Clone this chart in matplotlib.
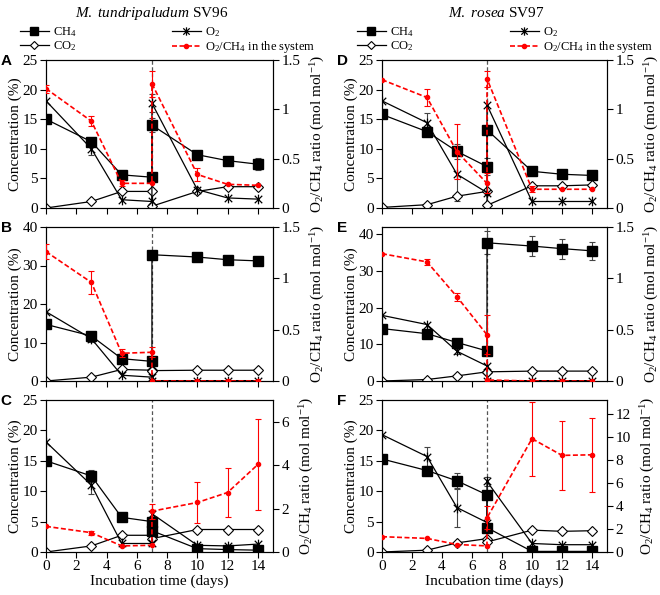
import numpy as np
import matplotlib
matplotlib.use('Agg')
import matplotlib.pyplot as plt
from matplotlib.path import Path
from matplotlib.lines import Line2D

plt.rcParams['font.family'] = ['Liberation Serif', 'DejaVu Serif']
plt.rcParams['mathtext.fontset'] = 'custom'
plt.rcParams['mathtext.rm'] = 'Liberation Serif'
plt.rcParams['mathtext.it'] = 'Liberation Serif:italic'
plt.rcParams['font.size'] = 11

# ─── data: day 7 appears twice (before / after re-feeding) ───
days = [0, 3, 5, 7, 7, 10, 12, 14]
xticks = [0, 2, 4, 6, 8, 10, 12, 14]

# M. tundripaludum SV96
ch4_A = [15.0, 11.2, 5.6, 5.2, 14.0, 9.0, 8.0, 7.4]
o2_A = [18.1, 10.0, 1.4, 1.1, 17.7, 3.1, 1.7, 1.5]
co2_A = [0.0, 1.1, 2.8, 2.8, 0.3, 2.8, 3.6, 3.6]
ratio_A = [1.21, 0.88, 0.25, 0.25, 1.26, 0.34, 0.24, 0.23]
ch4_err_A = [0, 0.7, 0, 0, 1.2, 0, 0, 1.0]
o2_err_A = [0, 1.0, 0, 0, 1.5, 0, 0, 0]
ratio_err_A = [0.04, 0.05, 0.03, 0, 0.13, 0.07, 0, 0]

ch4_B = [14.7, 11.7, 5.8, 5.1, 32.8, 32.2, 31.5, 31.2]
o2_B = [18.0, 11.0, 1.5, 1.0, 0.1, 0.1, 0.1, 0.1]
co2_B = [0.0, 1.0, 3.0, 2.8, 2.7, 2.8, 2.8, 2.8]
ratio_B = [1.26, 0.96, 0.27, 0.28, 0.0, 0.0, 0.0, 0.0]
ch4_err_B = [0, 0, 0, 0, 0, 0, 0, 0]
o2_err_B = [0, 0.8, 0, 0, 0, 0, 0, 0]
ratio_err_B = [0.075, 0.11, 0.04, 0.05, 0, 0, 0, 0]

ch4_C = [15.0, 12.5, 5.7, 5.0, 3.5, 0.55, 0.4, 0.3]
o2_C = [18.1, 11.0, 1.4, 1.4, 6.3, 1.1, 1.0, 1.3]
co2_C = [0.0, 1.0, 2.75, 2.75, 2.2, 3.7, 3.7, 3.7]
ratio_C = [1.18, 0.89, 0.28, 0.31, 1.88, 2.28, 2.74, 4.03]
ch4_err_C = [0, 1.0, 0, 0, 0, 0, 0, 0]
o2_err_C = [0, 1.5, 0, 0, 0, 0, 0, 0]
ratio_err_C = [0, 0.1, 0, 0, 0.35, 0.95, 1.15, 2.1]

# M. rosea SV97
ch4_D = [15.8, 12.9, 9.55, 7.0, 13.2, 6.2, 5.7, 5.5]
o2_D = [18.1, 14.4, 5.7, 2.6, 17.4, 1.1, 1.1, 1.1]
co2_D = [0.1, 0.56, 2.0, 2.8, 0.45, 3.75, 3.75, 3.9]
ratio_D = [1.30, 1.12, 0.57, 0.25, 1.31, 0.19, 0.19, 0.19]
ch4_err_D = [0, 0, 1.3, 1.5, 0, 0, 0, 0]
o2_err_D = [0, 1.7, 4.5, 0, 0, 0, 0, 0]
ratio_err_D = [0, 0.085, 0.28, 0.1, 0.08, 0.03, 0, 0]

ch4_E = [14.3, 12.9, 10.5, 8.2, 37.7, 36.8, 36.1, 35.5]
o2_E = [17.9, 15.4, 8.1, 4.1, 0.1, 0.1, 0.1, 0.1]
co2_E = [0.0, 0.4, 1.4, 2.5, 2.5, 2.7, 2.7, 2.7]
ratio_E = [1.24, 1.16, 0.82, 0.45, 0.01, 0.0, 0.0, 0.0]
ch4_err_E = [0, 0, 0, 0, 3.1, 2.7, 2.7, 2.4]
o2_err_E = [0, 0, 0.6, 0, 0, 0, 0, 0]
ratio_err_E = [0, 0.03, 0.04, 0.19, 0, 0, 0, 0]

ch4_F = [15.3, 13.4, 11.7, 9.4, 4.0, 0.1, 0.1, 0.1]
o2_F = [19.3, 15.7, 7.3, 4.85, 11.6, 1.4, 1.2, 1.2]
co2_F = [0.0, 0.3, 1.5, 2.2, 1.65, 3.6, 3.4, 3.5]
ratio_F = [1.33, 1.18, 0.65, 0.53, 2.96, 9.84, 8.39, 8.44]
ch4_err_F = [0, 0, 1.3, 0, 0, 0, 0, 0]
o2_err_F = [0, 1.5, 3.2, 0, 0.7, 0, 0, 0]
ratio_err_F = [0, 0, 0, 0, 1.0, 3.2, 3.0, 3.2]

# ─── marker for O2: x with a vertical bar ───
star = Path([(-1, -1), (1, 1), (-1, 1), (1, -1), (0, -1.3), (0, 1.3)],
            [Path.MOVETO, Path.LINETO, Path.MOVETO, Path.LINETO, Path.MOVETO, Path.LINETO])

W, H = 660, 595
fig = plt.figure(figsize=(W / 100, H / 100), dpi=100)

cols = [(46, 273), (382, 607)]
rows = [(60, 208), (227, 381), (400, 552)]


def err_bars(ax, y, err, color, lw=0.8):
    xs = [d for d, e in zip(days, err) if e > 0]
    ys = [v for v, e in zip(y, err) if e > 0]
    es = [e for e in err if e > 0]
    if xs:
        ax.errorbar(xs, ys, yerr=es, fmt='none', ecolor=color, elinewidth=lw,
                    capsize=2.5, capthick=lw, zorder=4)


def panel(col, row, ch4, o2, co2, ratio, ch4_err, o2_err, ratio_err,
          ylim, yticks, rlim, rticks, letter, last):
    x0, x1 = cols[col]
    top, bot = rows[row]
    ax = fig.add_axes([x0 / W, 1 - bot / H, (x1 - x0) / W, (bot - top) / H])
    ax2 = ax.twinx()

    ax.axvline(7, color='#555555', ls='--', lw=0.9, dashes=(3, 2), zorder=1)
    err_bars(ax, ch4, ch4_err, '#444444')
    err_bars(ax, o2, o2_err, '#444444')
    ax.plot(days, co2, color='black', lw=0.9, marker='D', ms=5.5,
            mfc='white', mec='black', mew=0.8, zorder=5)
    ax.plot(days, o2, color='black', lw=0.9, marker=star, ms=7,
            mec='black', mew=0.9, zorder=6)
    ax.plot(days, ch4, color='black', lw=0.9, marker='s', ms=7.5,
            mfc='black', mec='black', zorder=7)

    err_bars(ax2, ratio, ratio_err, 'red')
    ax2.plot(days, ratio, color='red', lw=1.2, ls='--', dashes=(3, 1.5),
             marker='o', ms=3, zorder=8)

    ax.set_xlim(0, 15)
    ax.set_xticks(xticks)
    ax.set_ylim(*ylim)
    ax.set_yticks(yticks)
    ax2.set_ylim(*rlim)
    ax2.set_yticks(rticks)
    ax2.set_yticklabels([('%g' % t) for t in rticks])
    for a in (ax, ax2):
        a.tick_params(direction='out', length=4, width=0.8, labelsize=11, pad=2)
    if last:
        ax.set_xlabel('Incubation time (days)', fontsize=11, labelpad=1)
    else:
        ax.set_xticklabels([])
    ax.set_ylabel('Concentration (%)', fontsize=11, labelpad=0)
    ax2.set_ylabel(r'O$_2$/CH$_4$ ratio (mol mol$^{-1}$)', fontsize=11, labelpad=6)
    fig.text((x0 - 40) / W, 1 - (top + 1) / H, letter, family='Liberation Sans',
             fontweight='bold', fontsize=11, ha='center', va='center')
    return ax


panel(0, 0, ch4_A, o2_A, co2_A, ratio_A, ch4_err_A, o2_err_A, ratio_err_A,
      (0, 25), [0, 5, 10, 15, 20, 25], (0, 1.5), [0, 0.5, 1, 1.5], 'A', False)
panel(0, 1, ch4_B, o2_B, co2_B, ratio_B, ch4_err_B, o2_err_B, ratio_err_B,
      (0, 40), [0, 10, 20, 30, 40], (0, 1.5), [0, 0.5, 1, 1.5], 'B', False)
panel(0, 2, ch4_C, o2_C, co2_C, ratio_C, ch4_err_C, o2_err_C, ratio_err_C,
      (0, 25), [0, 5, 10, 15, 20, 25], (0, 7), [0, 2, 4, 6], 'C', True)
panel(1, 0, ch4_D, o2_D, co2_D, ratio_D, ch4_err_D, o2_err_D, ratio_err_D,
      (0, 25), [0, 5, 10, 15, 20, 25], (0, 1.5), [0, 0.5, 1, 1.5], 'D', False)
panel(1, 1, ch4_E, o2_E, co2_E, ratio_E, ch4_err_E, o2_err_E, ratio_err_E,
      (0, 42), [0, 10, 20, 30, 40], (0, 1.5), [0, 0.5, 1, 1.5], 'E', False)
panel(1, 2, ch4_F, o2_F, co2_F, ratio_F, ch4_err_F, o2_err_F, ratio_err_F,
      (0, 25), [0, 5, 10, 15, 20, 25], (0, 13.2), [0, 2, 4, 6, 8, 10, 12], 'F', True)

# ─── titles ───
fig.text(152 / W, 1 - 13 / H, r'$\mathit{M.\ tundripaludum}$ SV96', ha='center', va='center', fontsize=11)
fig.text(496 / W, 1 - 13 / H, r'$\mathit{M.\ rosea}$ SV97', ha='center', va='center', fontsize=11)

# ─── legends ───
h_ch4 = Line2D([], [], color='black', lw=0.9, marker='s', ms=6, mfc='black')
h_co2 = Line2D([], [], color='black', lw=0.9, marker='D', ms=4.5, mfc='white', mew=0.8)
h_o2 = Line2D([], [], color='black', lw=0.9, marker=star, ms=6, mew=0.9)
h_rat = Line2D([], [], color='red', lw=1.2, ls='--', dashes=(3, 1.5), marker='o', ms=3)
leg_kw = dict(frameon=False, loc='upper left', borderpad=0, borderaxespad=0,
              handlelength=2.3, handletextpad=0.35, labelspacing=0.05, fontsize=9)
for hx, ox in [(20, 172), (357, 510)]:
    fig.legend([h_ch4, h_co2], ['CH$_4$', 'CO$_2$'],
               bbox_to_anchor=(hx / W, 1 - 25 / H), **leg_kw)
    fig.legend([h_o2, h_rat], ['O$_2$', 'O$_2$/CH$_4$ in the system'],
               bbox_to_anchor=(ox / W, 1 - 25 / H), **leg_kw)

fig.savefig('out.png', dpi=100)
